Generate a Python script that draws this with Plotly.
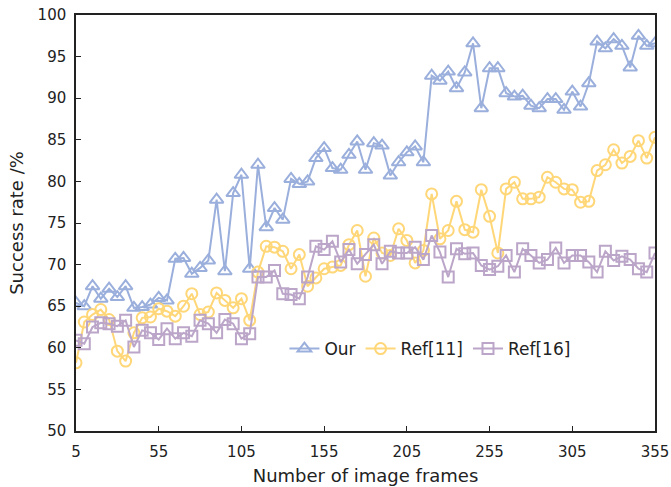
import plotly.graph_objects as go

frames = list(range(5, 356, 5))

our = [65.4, 65.0, 67.4, 65.9, 67.1, 66.1, 67.4, 64.8, 64.9, 65.2,
       66.0, 65.7, 70.7, 70.8, 68.9, 69.6, 70.5, 77.8, 69.2, 78.6,
       80.8, 69.5, 82.0, 74.5, 76.8, 75.4, 80.3, 79.7, 80.0, 82.8,
       84.0, 81.6, 81.4, 83.2, 84.8, 81.4, 84.6, 84.3, 80.7, 82.3,
       83.5, 84.2, 82.3, 92.7, 92.1, 93.2, 91.2, 93.1, 96.6, 88.8,
       93.6, 93.6, 90.6, 90.2, 90.3, 89.1, 88.8, 89.9, 89.9, 88.6,
       90.8, 89.0, 91.8, 96.8, 96.0, 97.1, 96.3, 93.7, 97.5, 96.3,
       96.6]

ref11 = [58.2, 63.1, 64.0, 64.6, 63.4, 59.6, 58.4, 61.8, 63.6, 63.7,
         64.7, 64.4, 63.8, 65.0, 66.5, 64.0, 64.3, 66.6, 65.7, 64.8,
         65.9, 63.3, 69.1, 72.2, 72.1, 71.6, 69.5, 71.2, 67.4, 68.4,
         69.5, 69.7, 69.9, 72.4, 74.1, 68.6, 73.2, 71.4, 71.1, 74.3,
         72.9, 70.2, 71.7, 78.5, 73.1, 74.1, 77.6, 74.2, 73.9, 79.0,
         75.8, 71.4, 79.1, 79.9, 77.9, 77.9, 78.1, 80.5, 79.9, 79.1,
         79.0, 77.5, 77.6, 81.3, 82.0, 83.8, 82.2, 83.0, 84.9, 82.8,
         85.3]

ref16 = [60.9, 60.5, 62.5, 63.0, 62.9, 62.6, 63.3, 60.1, 62.1, 61.8,
         61.0, 62.3, 61.1, 61.8, 61.4, 63.3, 62.9, 61.8, 63.4, 62.9,
         61.1, 61.7, 68.5, 68.5, 69.3, 66.5, 66.4, 65.9, 68.5, 72.2,
         71.8, 72.8, 70.3, 71.8, 70.1, 71.2, 72.4, 70.1, 71.6, 71.4,
         71.4, 72.1, 70.6, 73.5, 71.5, 68.5, 71.9, 71.3, 71.4, 69.9,
         69.4, 69.8, 71.1, 69.1, 71.9, 71.1, 70.2, 70.6, 72.0, 70.2,
         71.1, 71.1, 70.3, 69.1, 71.6, 70.5, 71.0, 70.6, 69.5, 69.1,
         71.4]

x_ticks = [5, 55, 105, 155, 205, 255, 305, 355]
y_ticks = list(range(50, 101, 5))

series = [
    ("Our", our, "rgb(155,175,220)", "triangle-up-open", 12),
    ("Ref[11]", ref11, "rgb(255,215,120)", "circle-open", 11),
    ("Ref[16]", ref16, "rgb(187,165,200)", "square-open", 11),
]

fig = go.Figure()
for name, vals, color, sym, size in series:
    fig.add_trace(go.Scatter(
        x=frames, y=vals, name=name, mode="lines+markers",
        line=dict(color=color, width=2),
        marker=dict(symbol=sym, size=size, color=color,
                    line=dict(color=color, width=2)),
    ))

font = "DejaVu Sans, Verdana, sans-serif"
fig.update_layout(
    width=671, height=487,
    margin=dict(l=76, r=16, t=15, b=56),
    paper_bgcolor="white", plot_bgcolor="white",
    font=dict(family=font, size=15, color="#222"),
    showlegend=True,
    legend=dict(orientation="h", x=0.36, y=0.197, xanchor="left",
                yanchor="middle", bgcolor="rgba(0,0,0,0)",
                font=dict(size=17), itemwidth=30, tracegroupgap=0),
    xaxis=dict(range=[5, 355], tickvals=x_ticks, automargin=False,
               title=dict(text="Number of image frames", standoff=10),
               showline=True, mirror=True, linecolor="#222", linewidth=1.5,
               ticks="inside", ticklen=5, tickcolor="#222",
               ticklabelstandoff=6, ticklabeloverflow="allow",
               showgrid=False, zeroline=False),
    yaxis=dict(range=[50, 100], tickvals=y_ticks, automargin=False,
               title=dict(text="Success rate /%", standoff=9),
               showline=True, mirror=True, linecolor="#222", linewidth=1.5,
               ticks="inside", ticklen=5, tickcolor="#222",
               ticklabelstandoff=5, ticklabeloverflow="allow",
               showgrid=False, zeroline=False),
)

# remove the default 8px page margin so the figure fills the window exactly
fig.write_html("out.html",
               config={"displayModeBar": False},
               post_script="document.body.style.margin='0';"
                           "document.body.style.overflow='hidden';")
